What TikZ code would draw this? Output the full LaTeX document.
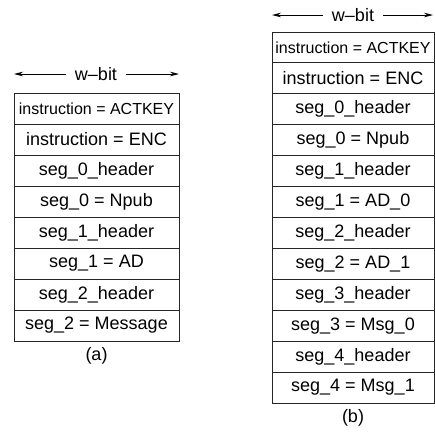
\documentclass[tikz,border=0pt]{standalone}
\usepackage{fontspec}
\setmainfont{Liberation Sans}
\usetikzlibrary{arrows.meta}
\begin{document}
\begin{tikzpicture}[x=1pt,y=1pt,
  cell/.style={draw=black!85, line width=0.9pt, inner sep=0pt, outer sep=0pt, anchor=north,
    font=\fontsize{18}{20}\selectfont},
  cella/.style={cell, minimum width=165pt, minimum height=31pt},
  cellb/.style={cell, minimum width=162pt, minimum height=30.92pt},
  small/.style={font=\fontsize{16}{18}\selectfont},
  lab/.style={inner sep=0pt, font=\fontsize{18}{20}\selectfont},
  wlab/.style={inner xsep=9pt, inner ysep=0pt, font=\fontsize{18}{20}\selectfont},
  arr/.style={-{Stealth[length=9pt,width=4.5pt]}, line width=0.8pt}]
\useasboundingbox (0,0) rectangle (435,-437);
% (a)
\coordinate (aL) at (14,-74);
\coordinate (aR) at (179,-74);
\node[wlab] (wa) at (96,-74) {w–bit};
\draw[arr] (wa) -- (aL);
\draw[arr] (wa) -- (aR);
\node[cella,small] (a1) at (96.5,-93) {instruction = ACTKEY};
\node[cella] (a2) at (a1.south) {instruction = ENC};
\node[cella] (a3) at (a2.south) {seg\_0\_header};
\node[cella] (a4) at (a3.south) {seg\_0 = Npub};
\node[cella] (a5) at (a4.south) {seg\_1\_header};
\node[cella] (a6) at (a5.south) {seg\_1 = AD};
\node[cella] (a7) at (a6.south) {seg\_2\_header};
\node[cella] (a8) at (a7.south) {seg\_2 = Message};
\node[lab] (capa) at (96.5,-356) {(a)};
% (b)
\coordinate (bL) at (272,-15);
\coordinate (bR) at (433,-15);
\node[wlab] (wb) at (353,-15) {w–bit};
\draw[arr] (wb) -- (bL);
\draw[arr] (wb) -- (bR);
\node[cellb,small] (b1) at (353,-32) {instruction = ACTKEY};
\node[cellb] (b2) at (b1.south) {instruction = ENC};
\node[cellb] (b3) at (b2.south) {seg\_0\_header};
\node[cellb] (b4) at (b3.south) {seg\_0 = Npub};
\node[cellb] (b5) at (b4.south) {seg\_1\_header};
\node[cellb] (b6) at (b5.south) {seg\_1 = AD\_0};
\node[cellb] (b7) at (b6.south) {seg\_2\_header};
\node[cellb] (b8) at (b7.south) {seg\_2 = AD\_1};
\node[cellb] (b9) at (b8.south) {seg\_3\_header};
\node[cellb] (b10) at (b9.south) {seg\_3 = Msg\_0};
\node[cellb] (b11) at (b10.south) {seg\_4\_header};
\node[cellb] (b12) at (b11.south) {seg\_4 = Msg\_1};
\node[lab] (capb) at (353,-418) {(b)};
\end{tikzpicture}
\end{document}
